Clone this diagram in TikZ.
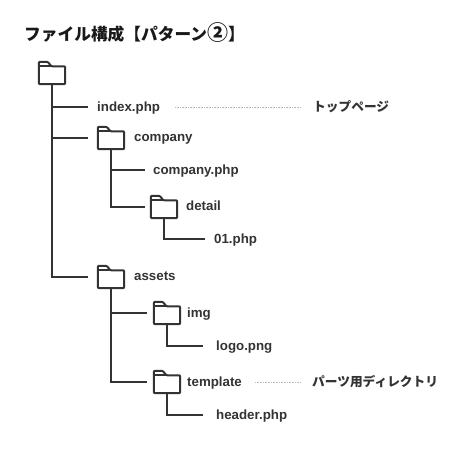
\documentclass[tikz,border=0pt]{standalone}
\usepackage{fontspec}
\setmainfont{Liberation Sans}
\newfontfamily\cjk{Noto Sans CJK JP}
\usetikzlibrary{positioning,calc}

% folder icon: the node is the outline box, the tab and the lid are drawn over it
\newcommand{\folder}[3]{%
  \node[foldernd] (#1) at (#2,#3) {};
  \draw[folderln]
    (#1.south west) -- (#1.north west) -- ([xshift=9pt]#1.north west)
    -- ([xshift=12.5pt,yshift=-4.5pt]#1.north west) -- ([yshift=-4.5pt]#1.north east)
    -- (#1.south east) -- cycle;
  \draw[folderln] ([yshift=-4.5pt]#1.north west) -- ([xshift=12.5pt,yshift=-4.5pt]#1.north west);
}

\begin{document}
\begin{tikzpicture}[
    x=1pt, y=-1pt,
    foldernd/.style={rectangle, minimum width=26pt, minimum height=22pt, inner sep=0pt},
    folderln/.style={line width=2pt, draw=inkc, rounded corners=1pt, line join=round},
    conn/.style={line width=2pt, draw=inkc},
    dots/.style={line width=0.8pt, draw=gray!55, dash pattern=on 0.8pt off 0.8pt},
    lbl/.style={anchor=west, inner sep=0pt, text=inkc, font=\fontsize{13.3}{15}\selectfont\bfseries,
                text height=10pt, text depth=2pt},
    note/.style={anchor=west, inner sep=0pt, text=inkc, font=\fontsize{12.7}{15}\selectfont\cjk\bfseries,
                text height=10pt, text depth=2pt}
  ]
    \definecolor{inkc}{HTML}{333333}
    \useasboundingbox (0,0) rectangle (474,448);

    %--- Title ---
    \node[anchor=west, inner sep=0pt, text=black!90, font=\fontsize{16.7}{18}\selectfont\cjk\bfseries]
      (title) at (24,33) {ファイル構成【パターン{\fontsize{21}{18}\selectfont ②}】};

    %--- Top level ---
    \folder{root}{52}{73}
    \node[lbl]  (idx)  at (97,107)  {index.php};
    \node[note] (top)  at (313,107) {トップページ};
    \folder{comp}{111}{138}
    \node[lbl]  (compl) at (134,137) {company};
    \folder{asset}{111}{277}
    \node[lbl]  (assetl) at (134,276) {assets};

    %--- company ---
    \node[lbl]  (cphp) at (153,170) {company.php};
    \folder{det}{164}{207}
    \node[lbl]  (detl) at (186,206) {detail};
    \node[lbl]  (one)  at (214,239) {01.php};

    %--- assets ---
    \folder{img}{167}{313}
    \node[lbl]  (imgl) at (187,313) {img};
    \node[lbl]  (logo) at (216,346) {logo.png};
    \folder{tpl}{167}{382}
    \node[lbl]  (tpll) at (187,382) {template};
    \node[lbl]  (head) at (216,415) {header.php};
    \node[note] (part) at (312,382) {パーツ用ディレクトリ};

    %--- Tree lines ---
    \draw[conn, shorten >=9pt]  (root.south) |- (idx.west);
    \draw[conn, shorten >=10pt] (root.south) |- (comp.west);
    \draw[conn, shorten >=10pt] (root.south) |- (asset.west);
    \draw[conn, shorten >=8pt]  (comp.south) |- (cphp.west);
    \draw[conn, shorten >=6pt]  (comp.south) |- (det.west);
    \draw[conn, shorten >=9pt]  (det.south)  |- (one.west);
    \draw[conn, shorten >=7pt]  (asset.south) |- (img.west);
    \draw[conn, shorten >=7pt]  (asset.south) |- (tpl.west);
    \draw[conn, shorten >=13pt] (img.south)  |- (logo.west);
    \draw[conn, shorten >=13pt] (tpl.south)  |- (head.west);

    %--- Dotted leaders ---
    \draw[dots, shorten <=15pt, shorten >=12pt] (idx.east)  -- (top.west);
    \draw[dots, shorten <=13pt, shorten >=11pt] (tpll.east) -- (part.west);
  \end{tikzpicture}
\end{document}
